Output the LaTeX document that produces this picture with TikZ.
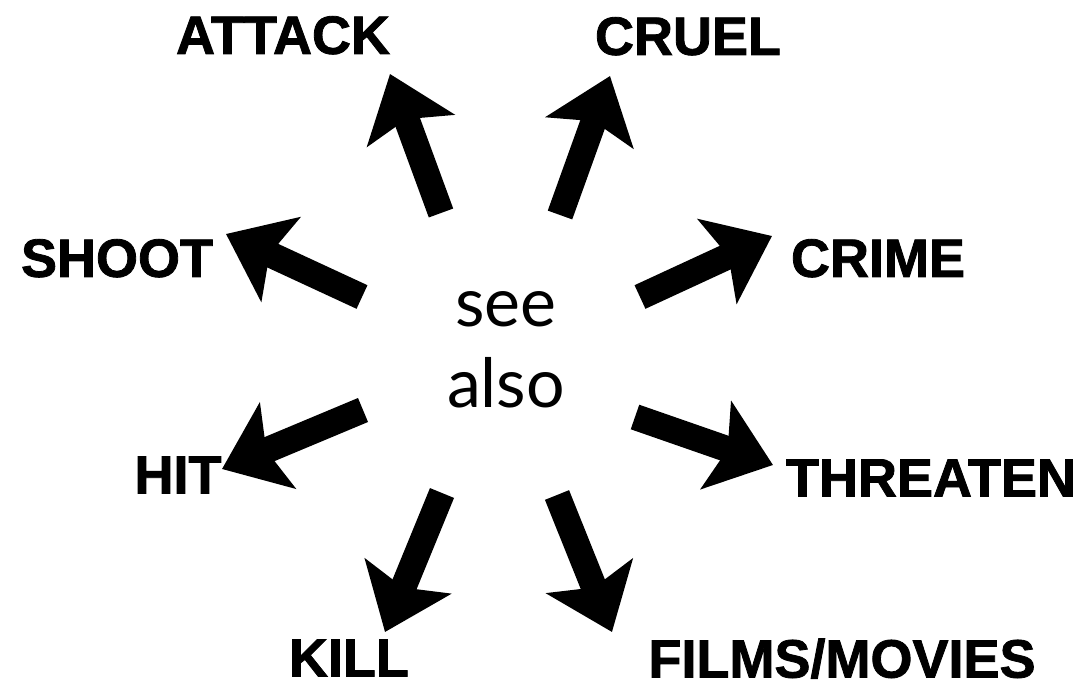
\documentclass[tikz,border=0pt]{standalone}
\usepackage{fontspec}
\setmainfont[BoldFeatures={FakeBold=1.5}]{Liberation Sans}
\newfontfamily\seefont{Lato}
\usetikzlibrary{arrows.meta}
\tikzset{
    word/.style={font=\bfseries\fontsize{27}{30}\selectfont, inner sep=0pt, text depth=0pt},
    bigarrow/.style={line width=13pt, -{Stealth[length=30pt, width=46pt, inset=6pt]}}
}

\begin{document}
\begin{tikzpicture}[x=0.5pt, y=-0.5pt]
    \useasboundingbox (0,0) rectangle (1078,686);

    % centre
    \node (seealso) [align=center, inner sep=0pt, font=\seefont\fontsize{34}{40.5}\selectfont] at (506,350) {see\\also};

    % words round it
    \node (attack) [word] at (283,35) {ATTACK};
    \node (cruel) [word] at (688,36) {CRUEL};
    \node (shoot) [word] at (117,258) {SHOOT};
    \node (crime) [word] at (878,258) {CRIME};
    \node (hit) [word] at (178,475) {HIT};
    \node (threaten) [word] at (931,478) {THREATEN};
    \node (kill) [word] at (349,658) {KILL};
    \node (films) [word] at (842,658) {FILMS/MOVIES};

    % arrow ends
    \coordinate (attack-tail) at (441,213);
    \coordinate (attack-tip) at (390,74);
    \coordinate (cruel-tail) at (560,215);
    \coordinate (cruel-tip) at (610,76);
    \coordinate (shoot-tail) at (362,297);
    \coordinate (shoot-tip) at (226,234);
    \coordinate (crime-tail) at (640,297);
    \coordinate (crime-tip) at (772,236);
    \coordinate (hit-tail) at (363,410);
    \coordinate (hit-tip) at (222,469);
    \coordinate (threaten-tail) at (635,417);
    \coordinate (threaten-tip) at (773,465);
    \coordinate (kill-tail) at (442,493);
    \coordinate (kill-tip) at (385,632);
    \coordinate (films-tail) at (557,495);
    \coordinate (films-tip) at (612,632);

    \draw [bigarrow] (attack-tail) -- (attack-tip);
    \draw [bigarrow] (cruel-tail) -- (cruel-tip);
    \draw [bigarrow] (shoot-tail) -- (shoot-tip);
    \draw [bigarrow] (crime-tail) -- (crime-tip);
    \draw [bigarrow] (hit-tail) -- (hit-tip);
    \draw [bigarrow] (threaten-tail) -- (threaten-tip);
    \draw [bigarrow] (kill-tail) -- (kill-tip);
    \draw [bigarrow] (films-tail) -- (films-tip);
\end{tikzpicture}
\end{document}
